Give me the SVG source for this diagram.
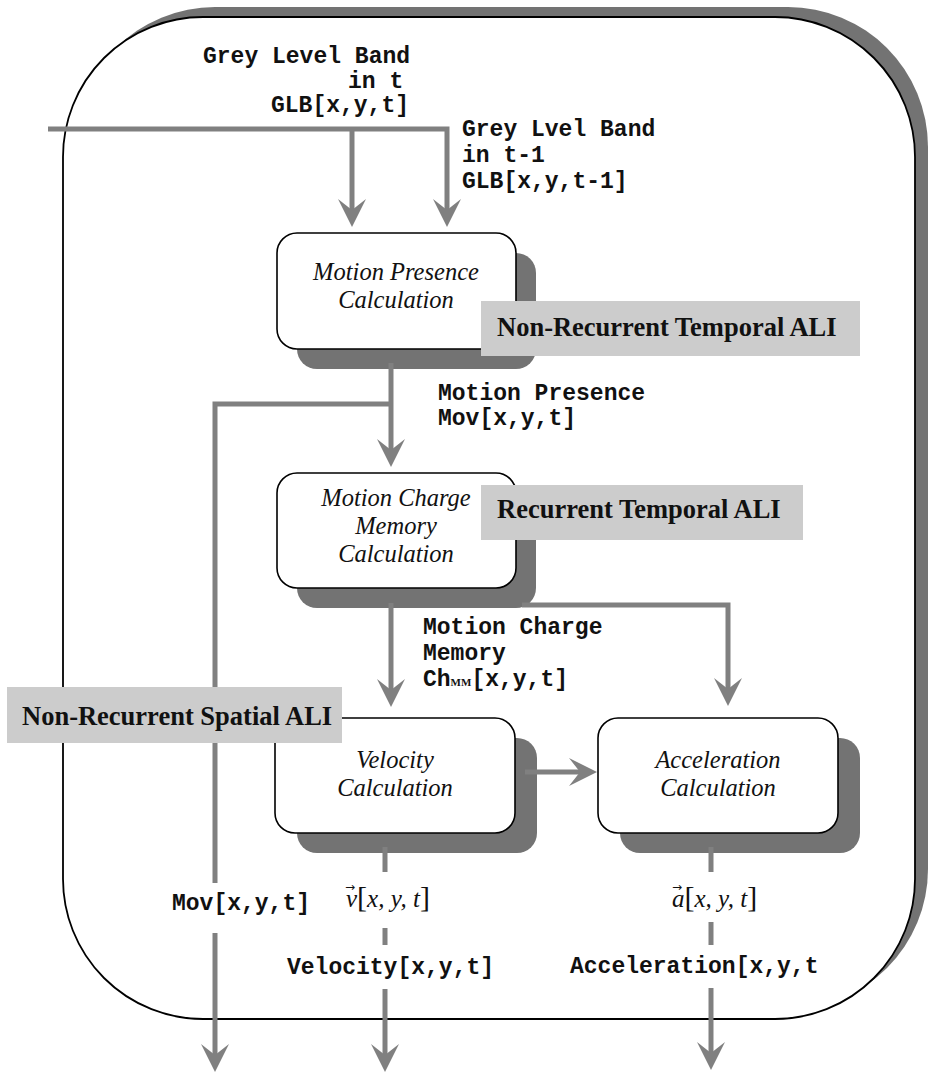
<svg xmlns="http://www.w3.org/2000/svg" width="928" height="1077" viewBox="0 0 928 1077">
  <defs>
    <style>
      .shadow { fill: #737373; }
      .box { fill: #ffffff; stroke: #000000; stroke-width: 1.6; }
      .node-text { font-family: "Liberation Serif", "Times New Roman", serif; font-style: italic; font-size: 24.5px; fill: #111; text-anchor: middle; }
      .mono { font-family: "Liberation Mono", "Courier New", monospace; font-weight: bold; font-size: 23px; fill: #111; }
      .math { font-family: "Liberation Serif", "Times New Roman", serif; font-style: italic; font-size: 25px; fill: #111; }
      .accent { font-family: "DejaVu Sans", sans-serif; font-size: 12px; fill: #111; }
      .tag-bg { fill: #cccccc; }
      .tag { font-family: "Liberation Serif", "Times New Roman", serif; font-weight: bold; font-size: 26.5px; fill: #111; }
      .wire { fill: none; stroke: #808080; stroke-width: 5; stroke-linejoin: miter; }
    </style>
    <marker id="head" viewBox="0 -15 29 30" markerUnits="userSpaceOnUse" markerWidth="29" markerHeight="30" refX="14" refY="0" orient="auto">
      <path d="M28,0 L0,-14 L11,0 L0,14 Z" fill="#808080"/>
    </marker>
  </defs>

  <!-- outer frame with shadow -->
  <g id="frame">
    <rect x="75" y="7" width="853" height="1002" rx="140" ry="140" class="shadow"/>
    <rect x="63" y="17" width="852" height="1002" rx="140" ry="140" fill="#ffffff" stroke="#000" stroke-width="1.8"/>
  </g>

  <!-- processing nodes -->
  <g id="motion-presence">
    <rect x="297" y="253" width="239" height="116" rx="20" class="shadow"/>
    <rect x="277" y="233" width="239" height="116" rx="20" class="box"/>
    <text class="node-text" x="396" y="280">Motion Presence</text>
    <text class="node-text" x="396" y="308">Calculation</text>
  </g>

  <g id="motion-charge-memory">
    <rect x="297" y="493" width="239" height="115" rx="20" class="shadow"/>
    <rect x="277" y="473" width="239" height="115" rx="20" class="box"/>
    <text class="node-text" x="396" y="506">Motion Charge</text>
    <text class="node-text" x="396" y="534">Memory</text>
    <text class="node-text" x="396" y="562">Calculation</text>
  </g>

  <g id="velocity">
    <rect x="297" y="738" width="240" height="115" rx="20" class="shadow"/>
    <rect x="275" y="718" width="240" height="115" rx="20" class="box"/>
    <text class="node-text" x="395" y="768">Velocity</text>
    <text class="node-text" x="395" y="796">Calculation</text>
  </g>

  <g id="acceleration">
    <rect x="620" y="738" width="240" height="115" rx="20" class="shadow"/>
    <rect x="598" y="718" width="240" height="115" rx="20" class="box"/>
    <text class="node-text" x="718" y="768">Acceleration</text>
    <text class="node-text" x="718" y="796">Calculation</text>
  </g>

  <!-- connectors -->
  <g id="connectors">
    <path class="wire" d="M48,129 H447 V213" marker-end="url(#head)"/>
    <path class="wire" d="M352,129 V213" marker-end="url(#head)"/>
    <path class="wire" d="M391,363 V453" marker-end="url(#head)"/>
    <path class="wire" d="M391,404 H215 V883"/>
    <path class="wire" d="M215,933 V1058" marker-end="url(#head)"/>
    <path class="wire" d="M391,603 V693" marker-end="url(#head)"/>
    <path class="wire" d="M522,605 H728 V692" marker-end="url(#head)"/>
    <path class="wire" d="M525,772 H583" marker-end="url(#head)"/>
    <path class="wire" d="M385,847 V872 M385,928 V945"/>
    <path class="wire" d="M385,989 V1058" marker-end="url(#head)"/>
    <path class="wire" d="M711,847 V872 M711,922 V945"/>
    <path class="wire" d="M711,988 V1056" marker-end="url(#head)"/>
  </g>

  <!-- signal labels -->
  <g id="signal-labels">
    <text class="mono" x="203" y="63">Grey Level Band</text>
    <text class="mono" x="348" y="88">in t</text>
    <text class="mono" x="271" y="112">GLB[x,y,t]</text>
    <text class="mono" x="462" y="136">Grey Lvel Band</text>
    <text class="mono" x="462" y="162">in t-1</text>
    <text class="mono" x="462" y="188">GLB[x,y,t-1]</text>
    <text class="mono" x="438" y="400">Motion Presence</text>
    <text class="mono" x="438" y="425">Mov[x,y,t]</text>
    <text class="mono" x="423" y="634">Motion Charge</text>
    <text class="mono" x="423" y="660">Memory</text>
    <text class="mono" x="423" y="686">Ch<tspan font-family="Liberation Serif, serif" font-size="11">MM</tspan>[x,y,t]</text>
    <text class="mono" x="172" y="910">Mov[x,y,t]</text>
    <text class="mono" x="287" y="974">Velocity[x,y,t]</text>
    <text class="mono" x="570" y="973">Acceleration[x,y,t</text>
    <text class="math" x="346" y="907">v<tspan font-size="30" font-style="normal">[</tspan>x, y, t<tspan font-size="30" font-style="normal">]</tspan></text>
    <text class="accent" x="345" y="891">→</text>
    <text class="math" x="672" y="907">a<tspan font-size="30" font-style="normal">[</tspan>x, y, t<tspan font-size="30" font-style="normal">]</tspan></text>
    <text class="accent" x="672" y="891">→</text>
  </g>

  <!-- layer tags -->
  <g id="tag-nonrecurrent-temporal">
    <rect x="481" y="301" width="379" height="55" class="tag-bg"/>
    <text class="tag" x="497" y="336">Non-Recurrent Temporal ALI</text>
  </g>
  <g id="tag-recurrent-temporal">
    <rect x="481" y="485" width="322" height="55" class="tag-bg"/>
    <text class="tag" x="497" y="518">Recurrent Temporal ALI</text>
  </g>
  <g id="tag-nonrecurrent-spatial">
    <rect x="7" y="687" width="335" height="56" class="tag-bg"/>
    <text class="tag" x="22" y="725">Non-Recurrent Spatial ALI</text>
  </g>
</svg>
